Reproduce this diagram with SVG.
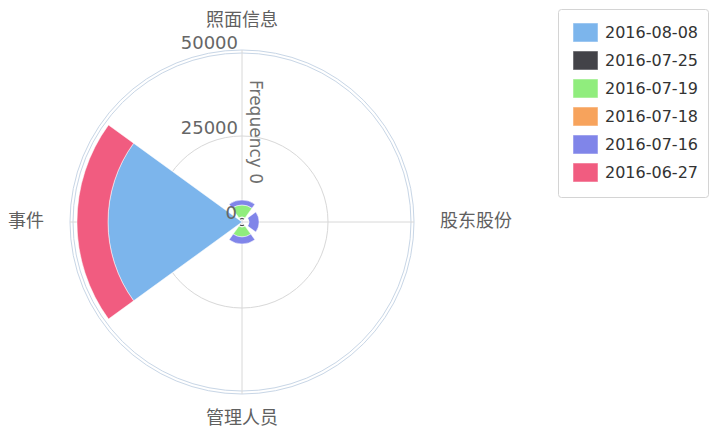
<svg xmlns="http://www.w3.org/2000/svg" width="710" height="429" viewBox="0 0 710 429">
<style>
.grid{fill:none;stroke:#d8d8d8;stroke-width:1}
.pane{fill:none;stroke:#c8d6e6;stroke-width:1}
.cat{font-family:"Noto Sans CJK SC","Noto Sans",sans-serif;font-size:18px;fill:#606060}
.ylab{font-family:"DejaVu Sans",sans-serif;font-size:18px;fill:#666666}
.leg{font-family:"DejaVu Sans",sans-serif;font-size:15px;fill:#333333}
.sw{stroke:#ffffff;stroke-opacity:0.5;stroke-width:1}
.pt{stroke:#ffffff;stroke-width:0.5}
</style>
<rect width="710" height="429" fill="#ffffff"/>
<g id="pane">
<circle class="pane" cx="242" cy="222" r="172"/>
<circle class="pane" cx="242" cy="222" r="169" stroke="#d6e0ec"/>
<circle class="grid" cx="242" cy="222" r="86"/>
<line class="grid" x1="242" y1="50" x2="242" y2="394"/>
<line class="grid" x1="70" y1="222" x2="414" y2="222"/>
</g>
<g id="series">
<path id="s-0808-event" fill="#7cb5ec" class="pt" d="M242,222 L133.6,143.2 A134,134 0 0 0 133.6,300.8 Z"/>
<path id="s-0627-event" fill="#f15c80" class="pt" d="M108.5,125 A165,165 0 0 0 108.5,319 L133.6,300.8 A134,134 0 0 1 133.6,143.2 Z"/>
<path id="s-0725-top" fill="#434348" d="M239.6,218.8 A4,4 0 0 1 244.4,218.8 L243.8,219.6 A3,3 0 0 0 240.2,219.6 Z"/>
<path id="s-0719-top" fill="#90ed7d" class="pt" d="M239,217.9 A5,5 0 0 1 245,217.9 L252,208.2 A17,17 0 0 0 232,208.2 Z"/>
<path id="s-0716-top" fill="#8085e9" class="pt" d="M232,208.2 A17,17 0 0 1 252,208.2 L254.9,204.2 A22,22 0 0 0 229.1,204.2 Z"/>
<path id="s-0716-right" fill="#8085e9" class="pt" d="M247.7,217.9 A7,7 0 0 1 247.7,226.1 L255.8,232 A17,17 0 0 0 255.8,212 Z"/>
<path id="s-0725-bottom" fill="#434348" d="M239.6,225.2 A4,4 0 0 0 244.4,225.2 L243.8,224.4 A3,3 0 0 1 240.2,224.4 Z"/>
<path id="s-0719-bottom" fill="#90ed7d" class="pt" d="M239,226.1 A5,5 0 0 0 245,226.1 L250.8,234.1 A15,15 0 0 1 233.2,234.1 Z"/>
<path id="s-0716-bottom" fill="#8085e9" class="pt" d="M233.2,234.1 A15,15 0 0 0 250.8,234.1 L254.9,239.8 A22,22 0 0 1 229.1,239.8 Z"/>
</g>
<g id="axis-labels">
<text class="cat" x="242" y="26" text-anchor="middle">照面信息</text>
<text class="cat" x="440" y="227">股东股份</text>
<text class="cat" x="242" y="424" text-anchor="middle">管理人员</text>
<text class="cat" x="8" y="227">事件</text>
<text class="ylab" x="238" y="49" text-anchor="end">50000</text>
<text class="ylab" x="238" y="134" text-anchor="end">25000</text>
<text class="ylab" x="237" y="219" text-anchor="end" font-size="17">0</text>
<text font-family="DejaVu Sans, sans-serif" font-size="17" fill="#707070" transform="translate(250,80) rotate(90)">Frequency 0</text>
</g>
<g id="legend">
<rect x="558.5" y="9.5" width="150" height="188" rx="3" fill="#ffffff" stroke="#d4d4d4"/>
<g id="leg-0808"><rect class="sw" x="573" y="23" width="25" height="19" fill="#7cb5ec"/><text class="leg" x="605" y="37.5" textLength="93" lengthAdjust="spacingAndGlyphs">2016-08-08</text></g>
<g id="leg-0725"><rect class="sw" x="573" y="51" width="25" height="19" fill="#434348"/><text class="leg" x="605" y="65.5" textLength="93" lengthAdjust="spacingAndGlyphs">2016-07-25</text></g>
<g id="leg-0719"><rect class="sw" x="573" y="79" width="25" height="19" fill="#90ed7d"/><text class="leg" x="605" y="93.5" textLength="93" lengthAdjust="spacingAndGlyphs">2016-07-19</text></g>
<g id="leg-0718"><rect class="sw" x="573" y="107" width="25" height="19" fill="#f7a35c"/><text class="leg" x="605" y="121.5" textLength="93" lengthAdjust="spacingAndGlyphs">2016-07-18</text></g>
<g id="leg-0716"><rect class="sw" x="573" y="135" width="25" height="19" fill="#8085e9"/><text class="leg" x="605" y="149.5" textLength="93" lengthAdjust="spacingAndGlyphs">2016-07-16</text></g>
<g id="leg-0627"><rect class="sw" x="573" y="163" width="25" height="19" fill="#f15c80"/><text class="leg" x="605" y="177.5" textLength="93" lengthAdjust="spacingAndGlyphs">2016-06-27</text></g>
</g>
</svg>
